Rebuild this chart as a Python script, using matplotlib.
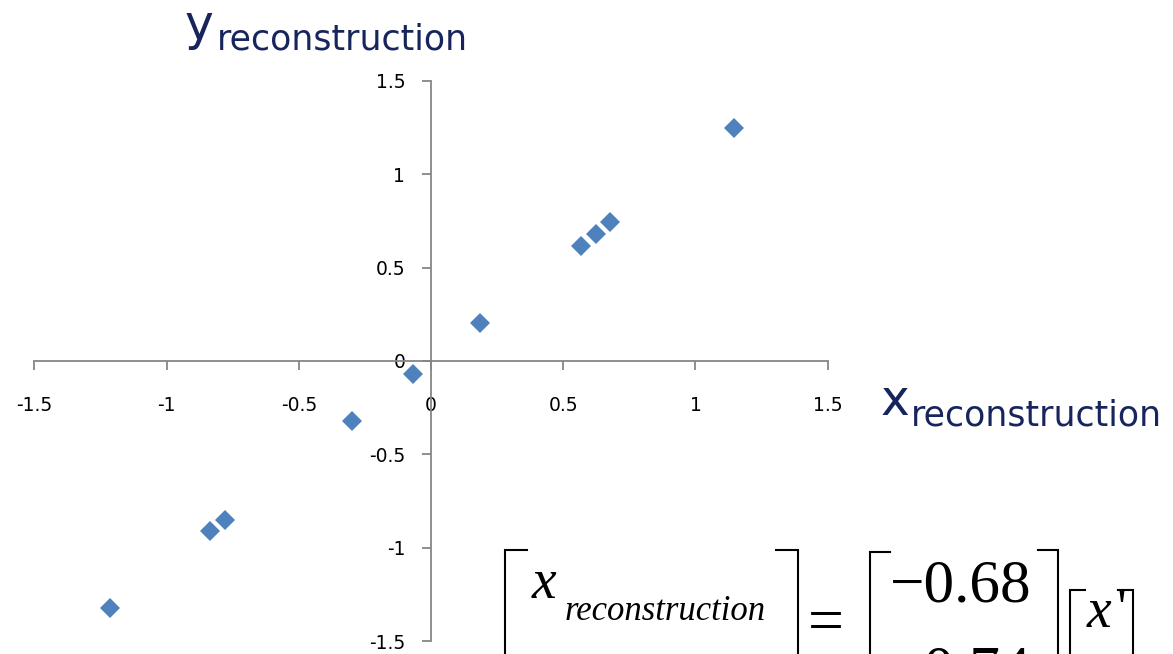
import matplotlib
matplotlib.use("Agg")
import matplotlib.pyplot as plt
from matplotlib.lines import Line2D

# reconstructed points
x_rec = [1.145, 0.676, 0.623, 0.566, 0.185, -0.068, -0.30, -0.78, -0.835, -1.215]
y_rec = [1.248, 0.742, 0.680, 0.617, 0.204, -0.070, -0.322, -0.850, -0.910, -1.320]
ticks = [-1.5, -1, -0.5, 0, 0.5, 1, 1.5]
tick_labels = ["-1.5", "-1", "-0.5", "0", "0.5", "1", "1.5"]

W, H = 1173, 654
blue = "#4F81BD"
grey = "#868686"
navy = "#17255C"

fig = plt.figure(figsize=(W / 100, H / 100), dpi=100)
ax = fig.add_axes([34.3 / W, (H - 641.3) / H, 793.4 / W, 560.6 / H])

ax.plot(x_rec, y_rec, linestyle="none", marker="D", markersize=10.2,
        color=blue, markeredgewidth=0, clip_on=False, zorder=3)

ax.set_xlim(-1.5, 1.5)
ax.set_ylim(-1.5, 1.5)
for s in ["top", "right"]:
    ax.spines[s].set_visible(False)
ax.spines["left"].set_position(("data", 0))
ax.spines["bottom"].set_position(("data", 0))
for s in ["left", "bottom"]:
    ax.spines[s].set_color(grey)
    ax.spines[s].set_linewidth(1.3)

ax.set_xticks(ticks)
ax.set_xticklabels(tick_labels)
ax.set_yticks(ticks)
ax.set_yticklabels(tick_labels)
ax.tick_params(axis="x", direction="out", length=6.5, width=1.3, color=grey,
               pad=19, labelsize=13.5)
ax.tick_params(axis="y", direction="out", length=6.5, width=1.3, color=grey,
               pad=12, labelsize=13.5)


def fx(px):
    return px / W


def fy(py):
    return 1 - py / H


# axis titles
fig.text(fx(185), fy(40), "y", fontsize=35, color=navy, va="baseline")
fig.text(fx(217), fy(50), "reconstruction", fontsize=25, color=navy, va="baseline")
fig.text(fx(881), fy(415), "x", fontsize=35, color=navy, va="baseline")
fig.text(fx(911), fy(426), "reconstruction", fontsize=25, color=navy, va="baseline")


# matrix equation (cut off at the bottom edge)
def bracket(x, top, side, arm=18):
    d = arm if side == "left" else -arm
    fig.add_artist(Line2D([fx(x + d), fx(x), fx(x)], [fy(top), fy(top), fy(720)],
                          transform=fig.transFigure, color="black", lw=1.5,
                          solid_joinstyle="miter"))


serif = "Liberation Serif"
bracket(505, 550, "left", 22)
bracket(798, 550, "right", 22)
fig.text(fx(532), fy(598), "x", fontsize=40, family=serif, style="italic", va="baseline")
fig.text(fx(565), fy(620), "reconstruction", fontsize=25, family=serif,
         style="italic", va="baseline")
fig.text(fx(808), fy(641), "=", fontsize=46, family=serif, va="baseline")
bracket(870, 552, "left", 20)
bracket(1058, 550, "right", 20)
fig.text(fx(890), fy(602), "\u22120.68", fontsize=44, family=serif, va="baseline")
fig.text(fx(890), fy(688), "\u22120.74", fontsize=44, family=serif, va="baseline")
bracket(1070, 590, "left", 15)
bracket(1133, 590, "right", 15)
fig.text(fx(1087), fy(627), "x", fontsize=40, family=serif, style="italic", va="baseline")
fig.text(fx(1117), fy(627), "'", fontsize=40, family=serif, va="baseline")

fig.savefig("out.png", dpi=100)
